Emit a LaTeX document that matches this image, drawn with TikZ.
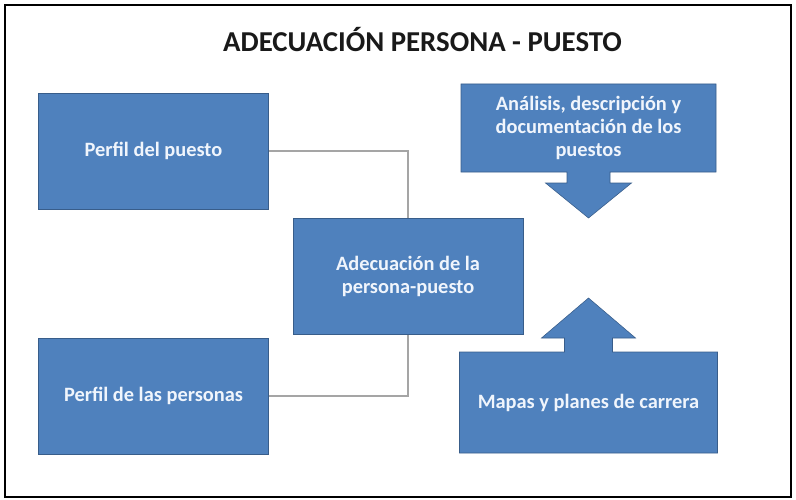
\documentclass[tikz,border=0pt]{standalone}
\usepackage{fontspec}
\setmainfont{Carlito}
\usetikzlibrary{positioning, backgrounds}

\definecolor{boxblue}{RGB}{79,129,189}
\definecolor{boxedge}{RGB}{56,93,138}
\definecolor{boxtext}{RGB}{240,245,252}
\definecolor{linegray}{RGB}{165,165,165}

\begin{document}
\begin{tikzpicture}[
  title/.style={font=\bfseries\fontsize{20.5}{24}\selectfont, text=black!90},
  block/.style={rectangle, minimum width=5.75cm, minimum height=2.9cm, text centered, align=center, draw=boxedge, fill=boxblue, text=boxtext, font=\bfseries\fontsize{14.5}{16.5}\selectfont},
  callout/.style={rectangle, outer sep=0pt, text centered, align=center, text=boxtext, font=\bfseries\fontsize{14.5}{16.5}\selectfont},
  calloutshape/.style={draw=boxedge, fill=boxblue, line join=miter},
  link/.style={draw=linegray, line width=0.8pt}]

  \useasboundingbox (0,0) rectangle (19.9,-12.475);
  \draw [line width=2pt] (0.125,-0.125) rectangle (19.775,-12.425);

  % Nodes
  \node (titulo) [title] at (10.5625,-1.0) {ADECUACIÓN PERSONA - PUESTO};
  \node (puesto) [block] at (3.8375,-3.775) {Perfil del puesto};
  \node (personas) [block, below of=puesto, yshift=-5.125cm] {Perfil de las personas};
  \node (adecuacion) [block, right of=puesto, xshift=5.3625cm, yshift=-3.1375cm] {Adecuación de la \\ persona-puesto};
  \node (analisis) [callout, minimum width=6.375cm, minimum height=2.2cm, right of=adecuacion, xshift=3.5125cm, yshift=3.7125cm] {Análisis, descripción y \\ documentación de los \\ puestos};
  \node (mapas) [callout, minimum width=6.45cm, minimum height=2.525cm, below of=analisis, yshift=-5.8625cm] {Mapas y planes de carrera};

  % Callout shapes
  \begin{scope}[on background layer]
    \draw [calloutshape] (analisis.north west) -- (analisis.north east) -- (analisis.south east)
      -- ([xshift=0.5375cm]analisis.south) -- ++(0,-0.275) -- ++(0.5375,0) -- ++(-1.075,-0.875)
      -- ++(-1.075,0.875) -- ++(0.5375,0) -- ++(0,0.275) -- (analisis.south west) -- cycle;
    \draw [calloutshape] (mapas.south west) -- (mapas.south east) -- (mapas.north east)
      -- ([xshift=0.6cm]mapas.north) -- ++(0,0.35) -- ++(0.575,0) -- ++(-1.175,1.0)
      -- ++(-1.175,-1.0) -- ++(0.575,0) -- ++(0,-0.35) -- (mapas.north west) -- cycle;
  \end{scope}

  % Lines
  \draw [link] (puesto) -| (adecuacion);
  \draw [link] (personas) -| (adecuacion);

\end{tikzpicture}
\end{document}
